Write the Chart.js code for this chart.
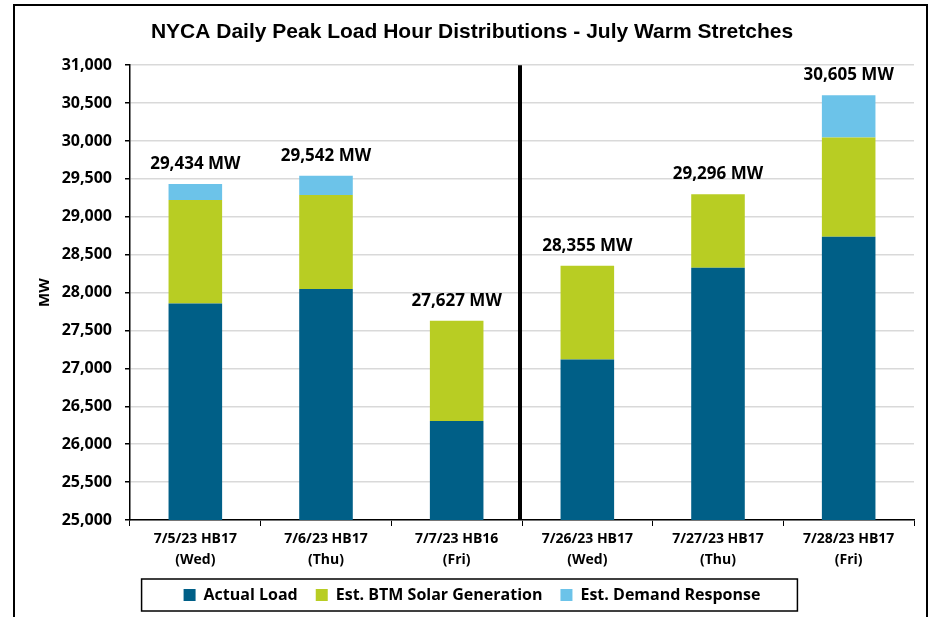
<!DOCTYPE html>
<html>
<head>
<meta charset="utf-8">
<script src="https://cdn.jsdelivr.net/npm/chart.js@4.4.0/dist/chart.umd.min.js"></script>
<style>
  html, body { margin: 0; padding: 0; background: #fff; }
  #wrap { width: 930px; height: 617px; }
</style>
</head>
<body>
<div id="wrap"><canvas id="peakChart" width="930" height="617"></canvas></div>
<script>
// Chart data
const categories = [
    ['7/5/23 HB17', '(Wed)'],
    ['7/6/23 HB17', '(Thu)'],
    ['7/7/23 HB16', '(Fri)'],
    ['7/26/23 HB17', '(Wed)'],
    ['7/27/23 HB17', '(Thu)'],
    ['7/28/23 HB17', '(Fri)']
];
const actualLoad = [27857, 28046, 26305, 27119, 28327, 28736];
const btmSolar = [1363, 1240, 1322, 1236, 969, 1310];
const demandResponse = [214, 256, 0, 0, 0, 559];
const peakTotals = [29434, 29542, 27627, 28355, 29296, 30605];
const yTicks = [25000, 25500, 26000, 26500, 27000, 27500, 28000, 28500, 29000, 29500, 30000, 30500, 31000];

const FONT = "'Open Sans', sans-serif";

// outer frame, divider line, totals and legend box
const extras = {
    id: 'extras',
    afterDraw(chart) {
        const ctx = chart.ctx;
        const x = chart.scales.x;
        const y = chart.scales.y;
        const area = chart.chartArea;
        ctx.save();

        // frame
        ctx.strokeStyle = '#000';
        ctx.lineWidth = 2;
        ctx.strokeRect(14, 5, 913, 640);

        // divider between the two warm stretches
        ctx.lineWidth = 4;
        const dx = x.getPixelForValue(2.5) - 2;
        ctx.beginPath();
        ctx.moveTo(dx, area.top);
        ctx.lineTo(dx, area.bottom);
        ctx.stroke();

        // totals above bars
        ctx.fillStyle = '#000';
        ctx.font = 'bold 17px ' + FONT;
        ctx.textAlign = 'center';
        ctx.textBaseline = 'middle';
        peakTotals.forEach((v, i) => {
            ctx.fillText(v.toLocaleString('en-US') + ' MW', x.getPixelForValue(i), y.getPixelForValue(v) - 20);
        });

        // legend border
        const hb = chart.legend.legendHitBoxes;
        if (hb && hb.length) {
            const first = hb[0];
            const last = hb[hb.length - 1];
            const cy = first.top + first.height / 2;
            const left = first.left - 42;
            const right = last.left + last.width + 37;
            ctx.lineWidth = 1.5;
            ctx.strokeStyle = '#000';
            ctx.strokeRect(left, cy - 16, right - left, 32);
        }
        ctx.restore();
    }
};

new Chart(document.getElementById('peakChart').getContext('2d'), {
    type: 'bar',
    data: {
        labels: categories,
        datasets: [
            { label: 'Actual Load', data: actualLoad, backgroundColor: '#005F87' },
            { label: 'Est. BTM Solar Generation', data: btmSolar, backgroundColor: '#B8CD23' },
            { label: 'Est. Demand Response', data: demandResponse, backgroundColor: '#6CC3E9' }
        ]
    },
    options: {
        responsive: false,
        animation: false,
        layout: { padding: { left: 30, right: 16, top: 10, bottom: 4 } },
        datasets: {
            bar: { categoryPercentage: 1, barPercentage: 0.41 }
        },
        scales: {
            x: {
                stacked: true,
                grid: { display: true, drawOnChartArea: false, offset: true, tickLength: 6, color: '#000', tickColor: '#000' },
                border: { color: '#000', width: 1.5 },
                ticks: { color: '#000', font: { family: FONT, size: 14, weight: 'bold', lineHeight: 1.5 }, padding: 3, maxRotation: 0 },
                afterFit(scale) { scale.height = 49; }
            },
            y: {
                stacked: true,
                min: 25000,
                max: 31000,
                afterBuildTicks(scale) { scale.ticks = yTicks.map(v => ({ value: v })); },
                grid: { color: '#d9d9d9', tickColor: '#000', tickLength: 5, lineWidth: 1.5 },
                border: { color: '#000', width: 1.5 },
                ticks: {
                    color: '#000',
                    padding: 13,
                    font: { family: FONT, size: 16, weight: 'bold' },
                    callback: v => v.toLocaleString('en-US')
                },
                title: { display: true, text: 'MW', color: '#000', font: { family: FONT, size: 15, weight: 'bold' }, padding: { top: 6, bottom: 0 } },
                afterFit(scale) { scale.width = 100; }
            }
        },
        plugins: {
            title: {
                display: true,
                text: 'NYCA Daily Peak Load Hour Distributions - July Warm Stretches',
                color: '#000',
                font: { family: "'Liberation Sans Narrow', sans-serif", size: 21, weight: 'bold' },
                padding: { top: 10, bottom: 20 }
            },
            legend: {
                position: 'bottom',
                labels: {
                    color: '#000',
                    boxWidth: 12,
                    boxHeight: 12,
                    padding: 18,
                    font: { family: FONT, size: 16, weight: 'bold' }
                }
            },
            tooltip: { enabled: false }
        }
    },
    plugins: [extras]
});
</script>
</body>
</html>
